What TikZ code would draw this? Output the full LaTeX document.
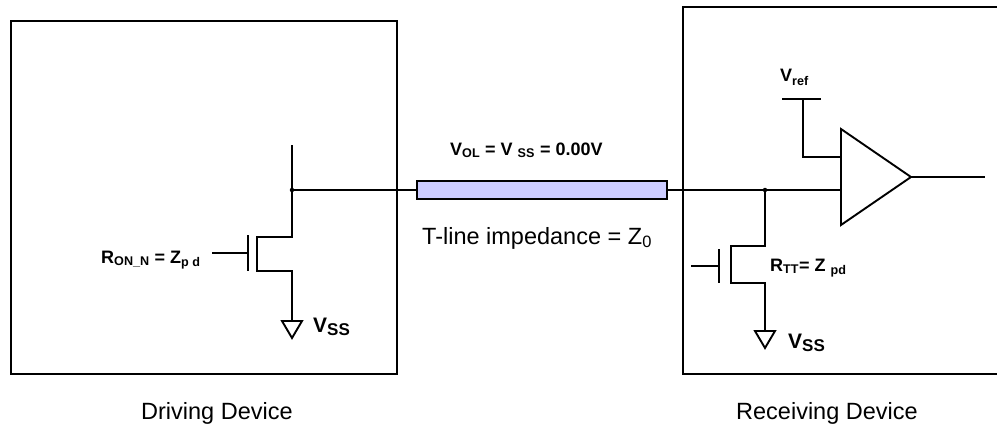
\documentclass[tikz,border=0pt]{standalone}
\usepackage{fontspec}
\setmainfont{Liberation Sans}
\usepackage{tikz}
\usetikzlibrary{positioning}
\definecolor{tlinefill}{RGB}{204,204,255}
\newcommand{\bigsub}[1]{\raisebox{-3.5pt}{\fontsize{17}{17}\selectfont #1}}

\tikzset{
	devbox/.style={draw, line width=2.6pt},
	wire/.style={draw, line width=1.9pt},
	tline/.style={draw, line width=1.9pt, fill=tlinefill, minimum width=250pt, minimum height=18pt, inner sep=0pt},
	lbl/.style={inner sep=0pt, anchor=base west, font=\fontsize{18}{20}\selectfont\bfseries},
	vsslbl/.style={inner sep=0pt, anchor=base west, font=\fontsize{21}{22}\selectfont\bfseries},
	captxt/.style={inner sep=0pt, anchor=base west, font=\fontsize{23.5}{24}\selectfont},
	jdot/.style={fill, circle, inner sep=0pt, minimum size=4.5pt}
}

\begin{document}
\begin{tikzpicture}[x=1pt, y=-1pt, line join=miter]
	\useasboundingbox (0,0) rectangle (997,428);

	% Boxes {drv, rcv}
	\draw [devbox] (11,21) rectangle (397,374);
	\draw [devbox] (1010,7) -- (683,7) -- (683,374) -- (1010,374);

	% Nodes {tl, djn, rjn, etc}
	\node [tline] 			(tl) 	at (542,190) 	{};
	\node [jdot] 			(djn) 	at (292,190) 	{};
	\node [jdot] 			(rjn) 	at (765,190) 	{};

	% Driving side
	\coordinate (dtop) 	at (292,145);
	\coordinate (ld) 	at (292,237);
	\coordinate (lc1) 	at (257,237);
	\coordinate (lc2) 	at (257,271);
	\coordinate (ls) 	at (292,271);
	\coordinate (lgnd) 	at (292,321);
	\coordinate (lpt) 	at (248,235);
	\coordinate (lpb) 	at (248,271);
	\coordinate (lgin) 	at (212,253);
	\coordinate (lgate) at (248,253);

	% Receiving side
	\coordinate (rd) 	at (765,246);
	\coordinate (rc1) 	at (731,246);
	\coordinate (rc2) 	at (731,283);
	\coordinate (rs) 	at (765,283);
	\coordinate (rgnd) 	at (765,331);
	\coordinate (rpt) 	at (719,249);
	\coordinate (rpb) 	at (719,283);
	\coordinate (rgin) 	at (691,266);
	\coordinate (rgate) at (719,266);

	% Amplifier
	\coordinate (atop) 	at (841,129);
	\coordinate (abot) 	at (841,225);
	\coordinate (aout) 	at (911,177);
	\coordinate (ain1) 	at (841,157);
	\coordinate (ain2) 	at (841,190);
	\coordinate (vrefl) at (782,99);
	\coordinate (vrefr) at (821,99);
	\coordinate (vref) 	at (803,99);
	\coordinate (oend) 	at (985,177);

	% Paths
	\path [wire] 	(dtop) -- (ld) -- (lc1) -- (lc2) -- (ls) -- (lgnd);
	\path [wire] 	(lpt) -- (lpb);
	\path [wire] 	(lgin) -- (lgate);
	\path [wire] 	(lgnd) ++(-10,0) -- ++(20,0) -- ++(-10,17) -- cycle;
	\path [wire] 	(djn.center) -- (tl.west);
	\path [wire] 	(tl.east) -- (rjn.center) -- (ain2);
	\path [wire] 	(rjn.center) -- (rd) -- (rc1) -- (rc2) -- (rs) -- (rgnd);
	\path [wire] 	(rpt) -- (rpb);
	\path [wire] 	(rgin) -- (rgate);
	\path [wire] 	(rgnd) ++(-10,0) -- ++(20,0) -- ++(-10,17) -- cycle;
	\path [wire] 	(atop) -- (aout) -- (abot) -- cycle;
	\path [wire] 	(vrefl) -- (vrefr);
	\path [wire] 	(vref) |- (ain1);
	\path [wire] 	(aout) -- (oend);

	% Labels
	\node [lbl] 	(vrefn) 	at (780,82) 	{V\textsubscript{ref}};
	\node [lbl] 	(vol) 		at (450,155) 	{V\textsubscript{OL} = V \textsubscript{SS} = 0.00V};
	\node [captxt] 	(zlbl) 		at (422,244) 	{T-line impedance = Z\textsubscript{0}};
	\node [lbl] 	(ronl) 		at (101,263) 	{R\textsubscript{ON\_N} = Z\textsubscript{p d}};
	\node [vsslbl] 	(lvss) 		at (313,332) 	{V\bigsub{SS}};
	\node [lbl] 	(rttl) 		at (770,271) 	{R\textsubscript{TT}= Z \textsubscript{pd}};
	\node [vsslbl] 	(rvss) 		at (788,348) 	{V\bigsub{SS}};
	\node [captxt] 	(drvl) 		at (141,419) 	{Driving Device};
	\node [captxt] 	(rcvl) 		at (736,419) 	{Receiving Device};

\end{tikzpicture}
\end{document}
